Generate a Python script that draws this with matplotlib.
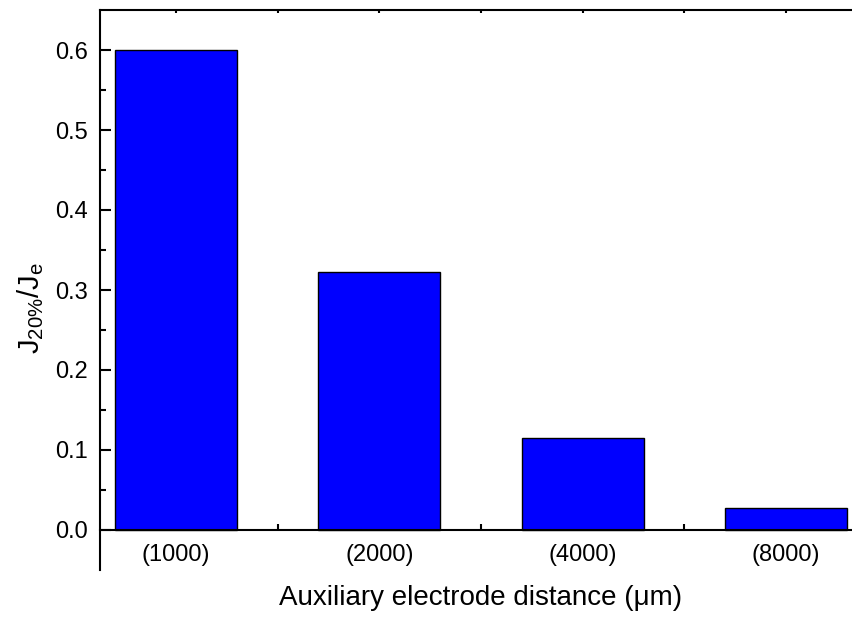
import numpy as np
import matplotlib
matplotlib.use("Agg")
from matplotlib import pyplot as plt
from matplotlib.ticker import FixedLocator

# data
distance_labels = ["(1000)", "(2000)", "(4000)", "(8000)"]
j_ratio = [0.600, 0.323, 0.115, 0.028]

plt.rcParams["font.family"] = ["Liberation Sans", "DejaVu Sans"]
plt.rcParams["mathtext.fontset"] = "custom"
plt.rcParams["mathtext.rm"] = "Liberation Sans"
plt.rcParams["mathtext.it"] = "Liberation Sans"
plt.rcParams["mathtext.default"] = "rm"

W, H = 853, 617
fig = plt.figure(figsize=(W / 100, H / 100), dpi=100)
# axes box in pixels: left 100, right 862 (clipped), top 10, bottom 570
ax = fig.add_axes([100 / W, (H - 570) / H, (862 - 100) / W, (570 - 10) / H])

x = np.arange(1, len(j_ratio) + 1)
ax.bar(x, j_ratio, width=0.6, color="#0000FF", edgecolor="black", linewidth=1.0, zorder=2)

ax.set_xlim(0.625, 4.375)
ax.set_ylim(-0.05, 0.65)

# Origin-like axes: x axis sits at y=0, left axis runs below it
ax.spines["bottom"].set_position(("data", 0))
ax.spines["right"].set_visible(False)
for s in ["left", "bottom", "top"]:
    ax.spines[s].set_linewidth(1.5)
    ax.spines[s].set_zorder(3)

ax.xaxis.set_major_locator(FixedLocator(x))
ax.xaxis.set_minor_locator(FixedLocator(x[:-1] + 0.5))
ax.set_xticklabels(distance_labels)
ax.yaxis.set_major_locator(FixedLocator(np.round(np.arange(0, 0.61, 0.1), 2)))
ax.yaxis.set_minor_locator(FixedLocator(np.round(np.arange(0.05, 0.56, 0.1), 2)))

ax.tick_params(axis="both", which="major", direction="in", length=8, width=1.5,
               labelsize=17)
ax.tick_params(axis="both", which="minor", direction="in", length=4, width=1.5)
ax.tick_params(axis="x", which="major", pad=10)
ax.tick_params(axis="y", which="major", pad=8.5)
# tiny ticks on the top axis
ax.tick_params(axis="x", which="both", top=True)
for t in ax.xaxis.get_major_ticks() + ax.xaxis.get_minor_ticks():
    t.tick2line.set_markersize(2)

ax.set_xlabel("Auxiliary electrode distance (\u03bcm)", fontsize=20)
ax.xaxis.set_label_coords(481 / W, 1 - 585 / H, transform=fig.transFigure)

ax.set_ylabel(r"$\mathrm{J_{20\%}/J_e}$", fontsize=21)
ax.yaxis.set_label_coords(-0.071, 0.468)

fig.savefig("out.png", dpi=100)
